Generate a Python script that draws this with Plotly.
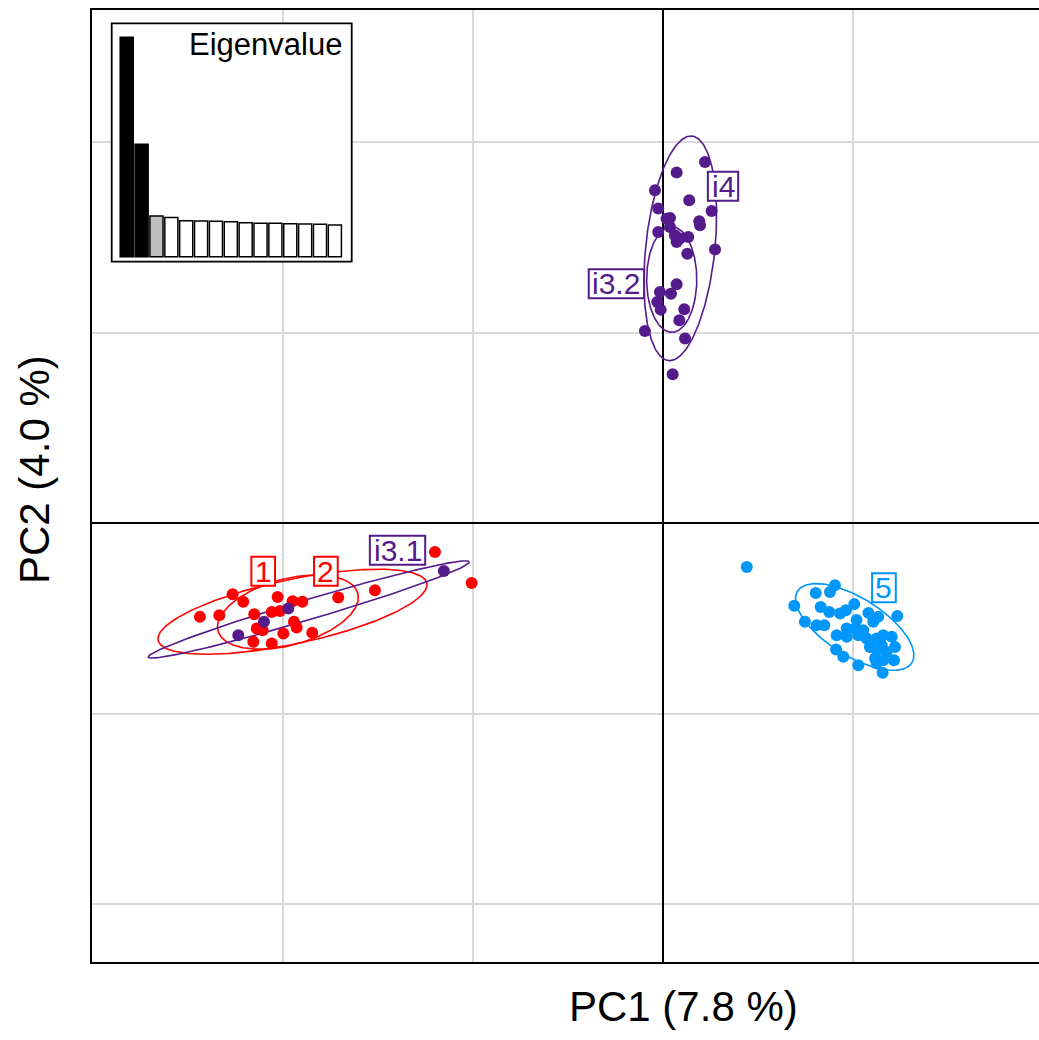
import numpy as np
import plotly.graph_objects as go

# ---------------- data ----------------
red_x = [-1.200, -1.007, -1.516, -1.709, -2.265, -2.209, -2.028, -1.949, -1.898, -2.437, -2.335,
         -2.151, -2.059, -2.016, -1.942, -1.928, -1.846, -2.138, -2.107, -1.998, -2.156, -2.059]
red_y = [-0.151, -0.314, -0.352, -0.390, -0.373, -0.413, -0.387, -0.410, -0.413, -0.492, -0.483,
         -0.478, -0.466, -0.461, -0.518, -0.548, -0.576, -0.553, -0.562, -0.579, -0.623, -0.632]

purple_x = [0.221, 0.072, -0.042, 0.138, -0.025, 0.256, 0.019, 0.037, 0.191, 0.195, -0.025,
            0.037, 0.063, 0.089, 0.133, 0.072, 0.274, 0.128, 0.072, -0.016, 0.042, -0.030,
            -0.012, 0.112, 0.086, -0.095, 0.116, 0.051,
            -1.153, -1.972, -2.100, -2.235]
purple_y = [1.898, 1.842, 1.749, 1.696, 1.653, 1.640, 1.600, 1.603, 1.586, 1.565, 1.530,
            1.556, 1.513, 1.495, 1.504, 1.477, 1.438, 1.416, 1.255, 1.215, 1.206, 1.162,
            1.122, 1.124, 1.066, 1.010, 0.970, 0.783,
            -0.251, -0.448, -0.518, -0.588]

blue_x = [0.441, 0.905, 0.879, 0.804, 0.691, 0.830, 0.875, 0.932, 0.963, 1.007, 1.081, 1.133,
          1.233, 0.747, 0.809, 0.849, 1.019, 1.107, 0.967, 1.011, 1.054, 0.914, 0.967, 1.028,
          1.072, 1.125, 1.159, 1.204, 1.089, 1.151, 1.221, 1.125, 1.177, 0.911, 0.949, 1.116,
          1.159, 1.216, 1.028, 1.156, 1.125]
blue_y = [-0.230, -0.326, -0.361, -0.366, -0.434, -0.440, -0.466, -0.474, -0.457, -0.425, -0.471,
          -0.492, -0.488, -0.518, -0.536, -0.536, -0.509, -0.518, -0.553, -0.553, -0.562, -0.588,
          -0.597, -0.588, -0.606, -0.606, -0.588, -0.597, -0.650, -0.641, -0.650, -0.667, -0.676,
          -0.663, -0.702, -0.711, -0.720, -0.720, -0.746, -0.786, -0.737]

# group ellipses: centre, semi-axes, angle (deg)
grp_names = ["1", "2", "i3.1", "i3.2", "i4", "5"]
grp_color = ["red", "red", "purple", "purple", "purple", "blue"]
ell_cx = [-1.950, -1.974, -1.864, 0.046, 0.091, 1.009]
ell_cy = [-0.465, -0.467, -0.453, 1.280, 1.444, -0.545]
ell_a = [0.723, 0.381, 0.881, 0.277, 0.593, 0.355]
ell_b = [0.169, 0.174, 0.053, 0.132, 0.182, 0.152]
ell_angle = [12, 15, 16.5, 90, 84, -32]

# label positions
lab_x = [-2.104, -1.774, -1.397, -0.245, 0.316, 1.163]
lab_y = [-0.252, -0.252, -0.142, 1.258, 1.770, -0.339]

# eigenvalues (% of variance)
eig_vals = [7.8, 4.0, 1.45, 1.39, 1.28, 1.27, 1.26, 1.24, 1.21, 1.19, 1.19, 1.17, 1.16, 1.15, 1.13]
eig_idx = list(range(1, len(eig_vals) + 1))

x_title = "PC1 (7.8 %)"
y_title = "PC2 (4.0 %)"

# ---------------- styling ----------------
COL = {"red": "#FF0000", "purple": "#551A8B", "blue": "#0096FA"}
FONT = "Liberation Sans, Arial, sans-serif"
W, H = 1039, 1040
ML, MR, MT, MB = 92, 0, 10, 78
PW, PH = W - ML - MR, H - MT - MB

fig = go.Figure()

# ellipses
t = np.linspace(0, 2 * np.pi, 300)
for cx, cy, a, b, ang, c in zip(ell_cx, ell_cy, ell_a, ell_b, ell_angle, grp_color):
    th = np.radians(ang)
    ex = cx + a * np.cos(t) * np.cos(th) - b * np.sin(t) * np.sin(th)
    ey = cy + a * np.cos(t) * np.sin(th) + b * np.sin(t) * np.cos(th)
    fig.add_trace(go.Scatter(x=ex, y=ey, mode="lines", line=dict(color=COL[c], width=1.6),
                             hoverinfo="skip", showlegend=False))

# points
for xs, ys, c in [(red_x, red_y, "red"), (purple_x, purple_y, "purple"), (blue_x, blue_y, "blue")]:
    fig.add_trace(go.Scatter(x=xs, y=ys, mode="markers",
                             marker=dict(color=COL[c], size=12, line=dict(width=0)),
                             hoverinfo="skip", showlegend=False))

# eigenvalue inset bars
eig_cols = ["black", "black", "#BEBEBE"] + ["white"] * (len(eig_vals) - 3)
fig.add_trace(go.Bar(x=eig_idx, y=eig_vals, xaxis="x2", yaxis="y2",
                     marker=dict(color=eig_cols, line=dict(color="black", width=1.5)),
                     hoverinfo="skip", showlegend=False))

# label boxes + text
CW = {"1": 0.556, "2": 0.556, "3": 0.556, "4": 0.556, "5": 0.556, "i": 0.222, ".": 0.278}
LFS = 30
shapes = []
annotations = []
for name, lx, ly, c in zip(grp_names, lab_x, lab_y, grp_color):
    tw = sum(CW[ch] for ch in name) * LFS
    bw = tw + 7
    bh = 29
    shapes.append(dict(type="rect", xref="x", yref="y", xsizemode="pixel", ysizemode="pixel",
                       xanchor=lx, yanchor=ly, x0=-bw / 2, x1=bw / 2, y0=-bh / 2, y1=bh / 2,
                       line=dict(color=COL[c], width=2), fillcolor="white", layer="above"))
    annotations.append(dict(x=lx, y=ly, xref="x", yref="y", text=name, showarrow=False,
                            xanchor="center", yanchor="middle",
                            font=dict(family=FONT, size=LFS, color=COL[c])))

# inset box (pixel -> paper)
def px2paper_x(px):
    return (px - ML) / PW

def px2paper_y(py):
    return (MT + PH - py) / PH

box_l, box_r, box_t, box_b = 111.7, 351.7, 23.3, 261.7
shapes.append(dict(type="rect", xref="paper", yref="paper",
                   x0=px2paper_x(box_l), x1=px2paper_x(box_r),
                   y0=px2paper_y(box_b), y1=px2paper_y(box_t),
                   line=dict(width=0), fillcolor="white", layer="between"))
shapes.append(dict(type="rect", xref="paper", yref="paper",
                   x0=px2paper_x(box_l), x1=px2paper_x(box_r),
                   y0=px2paper_y(box_b), y1=px2paper_y(box_t),
                   line=dict(color="black", width=1.8), fillcolor="rgba(0,0,0,0)", layer="above"))

annotations.append(dict(x=px2paper_x(343.5), y=px2paper_y(44.2), xref="paper", yref="paper",
                        text="Eigenvalue", showarrow=False, xanchor="right", yanchor="middle",
                        font=dict(family=FONT, size=31, color="black")))

# axis titles
annotations.append(dict(x=px2paper_x(683.3), y=px2paper_y(1006), xref="paper", yref="paper",
                        text=x_title, showarrow=False, xanchor="center", yanchor="middle",
                        font=dict(family=FONT, size=42, color="black")))
annotations.append(dict(x=px2paper_x(35), y=px2paper_y(470), xref="paper", yref="paper",
                        text=y_title, showarrow=False, xanchor="center", yanchor="middle",
                        textangle=-90, font=dict(family=FONT, size=42, color="black")))

# inset axis geometry: bars slot 0.5..15.5 spans px 119.3..342.3, baseline 256.7, 7.8 -> 37.3
slot = (342.3 - 119.3) / len(eig_vals)
x2_lo = 0.5 - (119.3 - box_l) / slot
x2_hi = len(eig_vals) + 0.5 + (box_r - 342.3) / slot
yunit = (256.7 - 37.3) / max(eig_vals)
y2_lo = -(box_b - 256.7) / yunit
y2_hi = max(eig_vals) + (37.3 - box_t) / yunit

fig.update_layout(
    width=W, height=H, autosize=False,
    margin=dict(l=ML, r=MR, t=MT, b=MB, pad=0),
    paper_bgcolor="white", plot_bgcolor="white",
    font=dict(family=FONT, color="black"),
    showlegend=False, hovermode=False,
    bargap=0.12,
    xaxis=dict(range=[-3.005, 1.979], dtick=1, tick0=0, showgrid=True, gridcolor="#D9D9D9",
               gridwidth=1.8, zeroline=True, zerolinecolor="black", zerolinewidth=1.6,
               showticklabels=False, ticks="", showline=True, linecolor="black", linewidth=2,
               mirror=True, fixedrange=True),
    yaxis=dict(range=[-2.305, 2.696], dtick=1, tick0=0, showgrid=True, gridcolor="#D9D9D9",
               gridwidth=1.8, zeroline=True, zerolinecolor="black", zerolinewidth=1.6,
               showticklabels=False, ticks="", showline=True, linecolor="black", linewidth=2,
               mirror=False, fixedrange=True),
    xaxis2=dict(domain=[px2paper_x(box_l), px2paper_x(box_r)], anchor="y2", range=[x2_lo, x2_hi],
                visible=False, fixedrange=True),
    yaxis2=dict(domain=[px2paper_y(box_b), px2paper_y(box_t)], anchor="x2", range=[y2_lo, y2_hi],
                visible=False, fixedrange=True),
    shapes=shapes,
    annotations=annotations,
)

fig.write_html(
    "out.html",
    config={"displayModeBar": False},
    post_script="document.documentElement.style.margin='0';document.body.style.margin='0';"
                "document.body.style.padding='0';document.body.style.overflow='hidden';",
)
